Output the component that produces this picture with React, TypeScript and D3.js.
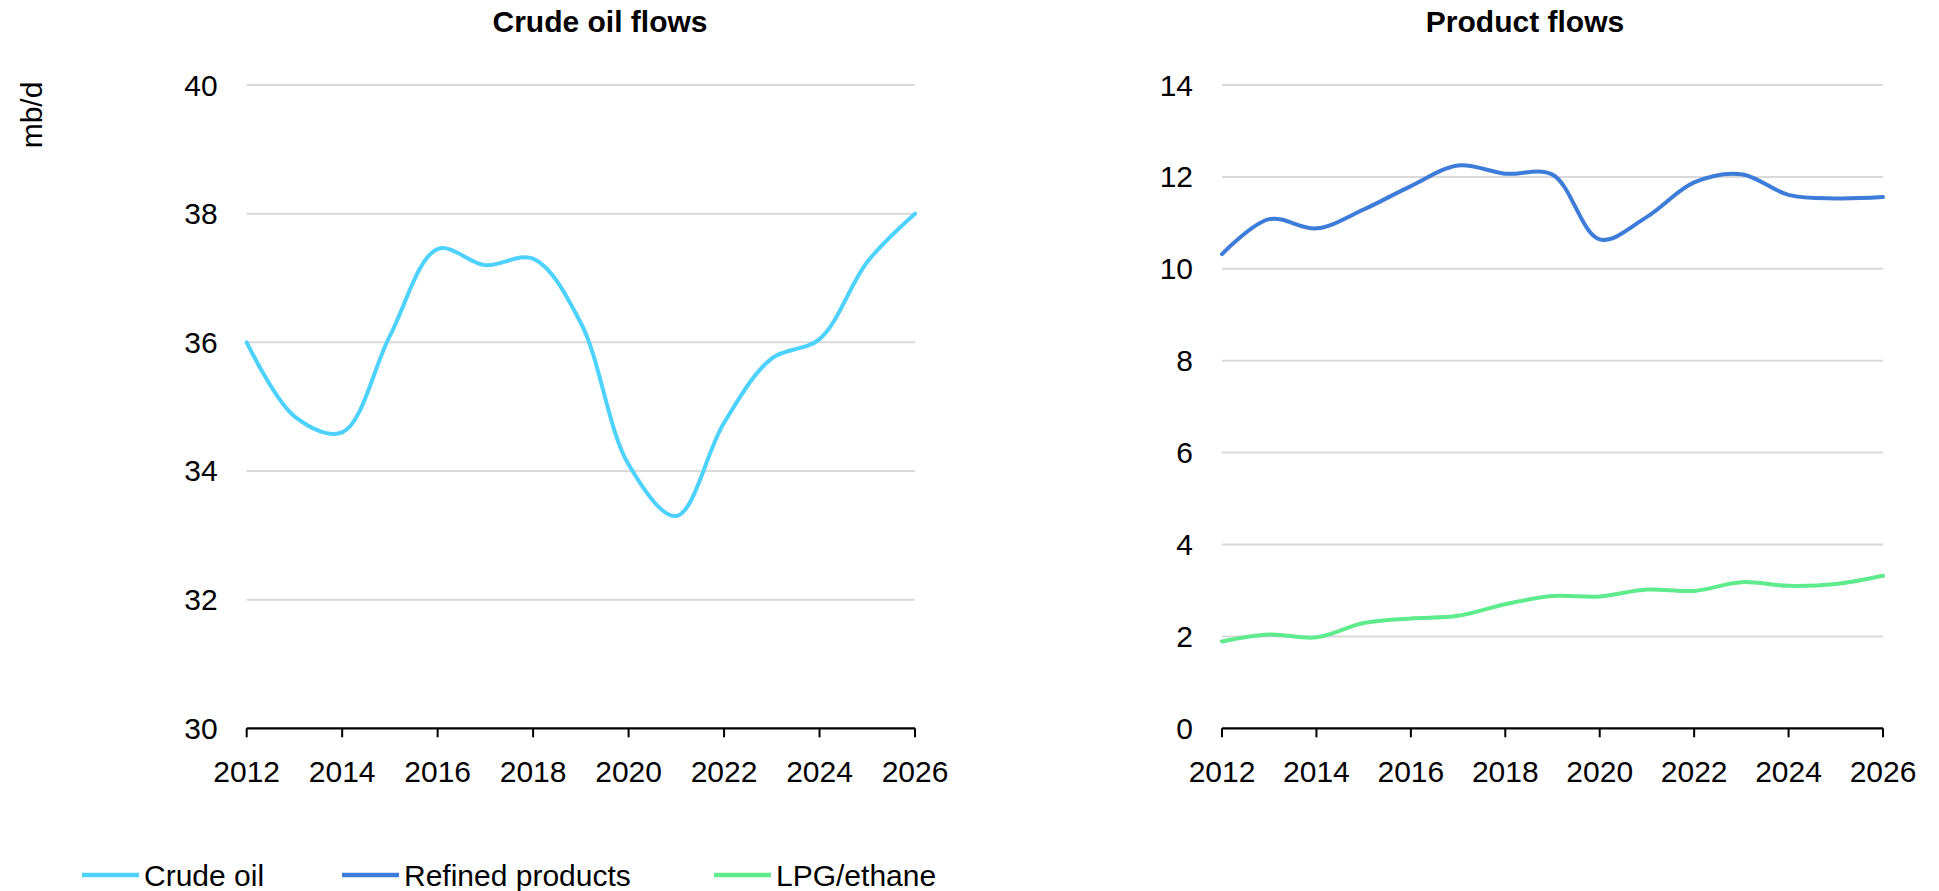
import { useEffect, useRef } from "react"
import * as d3 from "d3"

const years = [2012, 2013, 2014, 2015, 2016, 2017, 2018, 2019, 2020, 2021, 2022, 2023, 2024, 2025, 2026]
const crudeOil = [36.0, 34.85, 34.6, 36.1, 37.45, 37.2, 37.3, 36.3, 34.1, 33.3, 34.75, 35.75, 36.05, 37.25, 38.0]
const refinedProducts = [10.32, 11.08, 10.88, 11.29, 11.8, 12.25, 12.07, 12.05, 10.64, 11.13, 11.88, 12.06, 11.61, 11.53, 11.56]
const lpgEthane = [1.89, 2.04, 1.98, 2.29, 2.39, 2.45, 2.7, 2.88, 2.87, 3.02, 2.99, 3.18, 3.1, 3.14, 3.32]
const xTicks = [2012, 2014, 2016, 2018, 2020, 2022, 2024, 2026]
const crudeTicks = [30, 32, 34, 36, 38, 40]
const productTicks = [0, 2, 4, 6, 8, 10, 12, 14]

const COLORS = {
  crude: "#4dd2ff",
  refined: "#3e7cda",
  lpg: "#5eeb8c",
}

type Series = { name: string; values: number[]; color: string }

const legendItems: Series[] = [
  { name: "Crude oil", values: crudeOil, color: COLORS.crude },
  { name: "Refined products", values: refinedProducts, color: COLORS.refined },
  { name: "LPG/ethane", values: lpgEthane, color: COLORS.lpg },
]

export default function App() {
  const svgRef = useRef<SVGSVGElement>(null)

  useEffect(() => {
    if (!svgRef.current) return
    const svg = d3.select(svgRef.current)
    svg.selectAll("*").remove()

    const font = "'Liberation Sans', Arial, sans-serif"
    svg.style("font-family", font)

    const top = 85
    const bottom = 728.3

    // one panel = title, grid, axis, lines
    function panel(
      x0: number,
      x1: number,
      domain: [number, number],
      ticks: number[],
      title: string,
      titleX: number,
      series: Series[]
    ) {
      const x = d3.scaleLinear().domain([2012, 2026]).range([x0, x1])
      const y = d3.scaleLinear().domain(domain).range([bottom, top])
      const g = svg.append("g")

      g.append("text")
        .attr("x", titleX)
        .attr("y", 31.5)
        .attr("text-anchor", "middle")
        .attr("font-size", "30px")
        .attr("font-weight", "700")
        .text(title)

      // gridlines
      g.selectAll("line.grid")
        .data(ticks.filter(t => t !== domain[0]))
        .join("line")
        .attr("class", "grid")
        .attr("x1", x0)
        .attr("x2", x1)
        .attr("y1", d => y(d))
        .attr("y2", d => y(d))
        .attr("stroke", "#d9d9d9")
        .attr("stroke-width", 2)

      // y labels
      g.selectAll("text.ylab")
        .data(ticks)
        .join("text")
        .attr("class", "ylab")
        .attr("x", x0 - 29)
        .attr("y", d => y(d))
        .attr("dy", "0.35em")
        .attr("text-anchor", "end")
        .attr("font-size", "30px")
        .text(d => d)

      // x axis
      g.append("line")
        .attr("x1", x0)
        .attr("x2", x1)
        .attr("y1", bottom)
        .attr("y2", bottom)
        .attr("stroke", "#000")
        .attr("stroke-width", 2.2)

      g.selectAll("line.xtick")
        .data(xTicks)
        .join("line")
        .attr("class", "xtick")
        .attr("x1", d => x(d))
        .attr("x2", d => x(d))
        .attr("y1", bottom)
        .attr("y2", bottom + 9)
        .attr("stroke", "#000")
        .attr("stroke-width", 2)

      g.selectAll("text.xlab")
        .data(xTicks)
        .join("text")
        .attr("class", "xlab")
        .attr("x", d => x(d))
        .attr("y", bottom + 53.5)
        .attr("text-anchor", "middle")
        .attr("font-size", "30px")
        .text(d => d)

      const line = d3.line<number>()
        .x((_, i) => x(years[i]))
        .y(d => y(d))
        .curve(d3.curveCatmullRom.alpha(0.5))

      g.selectAll("path.series")
        .data(series)
        .join("path")
        .attr("class", "series")
        .attr("d", d => line(d.values))
        .attr("fill", "none")
        .attr("stroke", d => d.color)
        .attr("stroke-width", 4)
        .attr("stroke-linecap", "round")
    }

    panel(246.7, 915, [30, 40], crudeTicks, "Crude oil flows", 600, [legendItems[0]])
    panel(1222, 1883, [0, 14], productTicks, "Product flows", 1525, [legendItems[1], legendItems[2]])

    // unit label
    svg.append("text")
      .attr("transform", "translate(31,115) rotate(-90)")
      .attr("text-anchor", "middle")
      .attr("dy", "0.35em")
      .attr("font-size", "30px")
      .text("mb/d")

    // legend
    const legendX = [82, 342, 714]
    const legend = svg.selectAll("g.legend")
      .data(legendItems)
      .join("g")
      .attr("class", "legend")
      .attr("transform", (_, i) => `translate(${legendX[i]},875)`)

    legend.append("line")
      .attr("x1", 0)
      .attr("x2", 57)
      .attr("stroke", d => d.color)
      .attr("stroke-width", 4.5)

    legend.append("text")
      .attr("x", 62)
      .attr("dy", "0.35em")
      .attr("font-size", "30px")
      .text(d => d.name)
  }, [])

  return (
    <svg
      ref={svgRef}
      width={1939}
      height={891}
      style={{ position: "absolute", left: 0, top: 0, background: "#fff" }}
    />
  )
}
